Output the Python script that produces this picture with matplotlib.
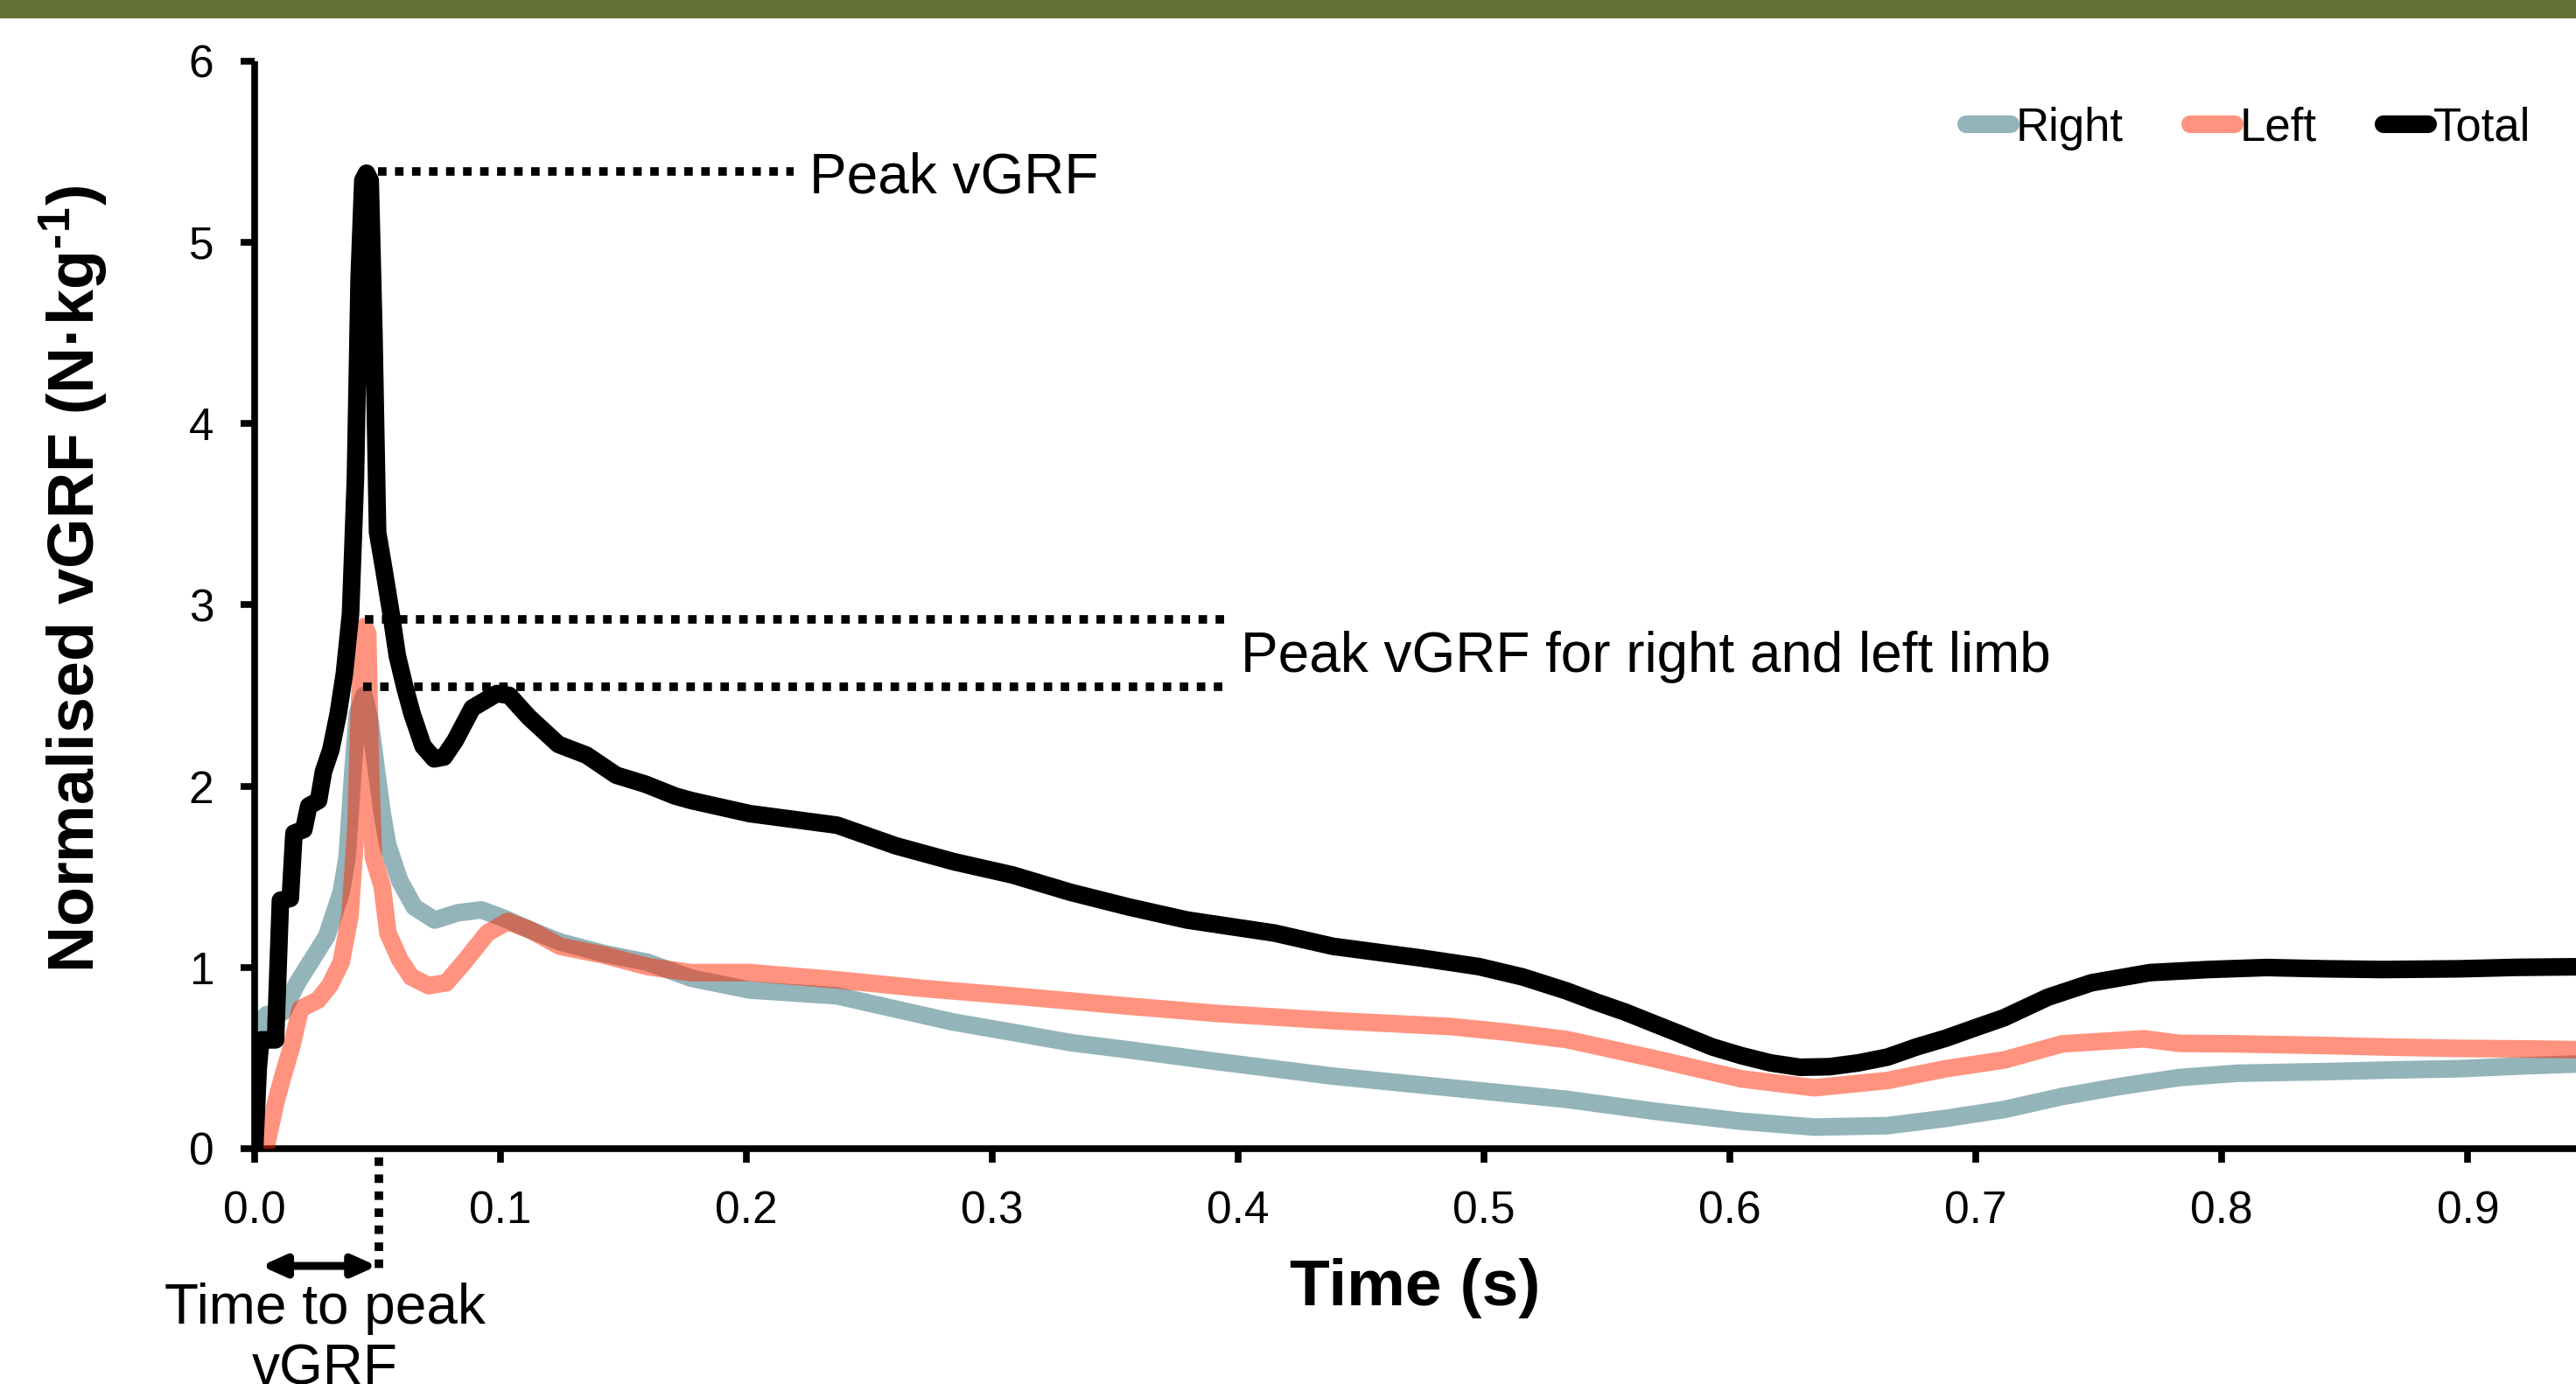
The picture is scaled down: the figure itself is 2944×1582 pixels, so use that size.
import matplotlib
matplotlib.use("Agg")
import matplotlib.pyplot as plt
import matplotlib.transforms as mtransforms
from matplotlib.patches import Rectangle

plt.rcParams['font.family'] = ['Liberation Sans', 'DejaVu Sans']
plt.rcParams['mathtext.default'] = 'regular'

# ---------------- data ----------------
total_t = [0.0, 0.0015, 0.0025, 0.0085, 0.0105, 0.0145, 0.016, 0.020, 0.022, 0.026,
           0.028, 0.031, 0.034, 0.0365, 0.039, 0.041, 0.0425, 0.044, 0.0455, 0.047,
           0.0485, 0.050, 0.0525, 0.0555, 0.058, 0.061, 0.064, 0.0685, 0.073, 0.077,
           0.0815, 0.0885, 0.0985, 0.1035, 0.1115, 0.1235, 0.135, 0.147, 0.159, 0.171,
           0.1776, 0.2013, 0.2369, 0.2606, 0.2843, 0.3081, 0.3318, 0.3555, 0.3792, 0.4148,
           0.4385, 0.4741, 0.4979, 0.5157, 0.5335, 0.5453, 0.5572, 0.569, 0.5809, 0.5928,
           0.6046, 0.6165, 0.6284, 0.6403, 0.6521, 0.664, 0.6758, 0.6877, 0.6995, 0.7114,
           0.7292, 0.747, 0.7707, 0.7944, 0.8181, 0.8419, 0.8656, 0.8964, 0.92, 0.95]
total_v = [0.0, 0.45, 0.60, 0.60, 1.37, 1.38, 1.74, 1.76, 1.89, 1.92,
           2.08, 2.20, 2.40, 2.62, 2.95, 3.7, 4.8, 5.34, 5.38, 5.34,
           4.5, 3.4, 3.2, 2.95, 2.72, 2.55, 2.40, 2.22, 2.15, 2.16,
           2.25, 2.43, 2.51, 2.50, 2.38, 2.23, 2.17, 2.06, 2.01, 1.945,
           1.92, 1.848, 1.784, 1.671, 1.583, 1.51, 1.414, 1.333, 1.261, 1.189,
           1.116, 1.052, 1.004, 0.947, 0.87, 0.81, 0.754, 0.69, 0.626, 0.561,
           0.513, 0.473, 0.449, 0.452, 0.473, 0.505, 0.561, 0.609, 0.666, 0.722,
           0.835, 0.915, 0.971, 0.988, 0.999, 0.992, 0.988, 0.992, 1.0, 1.004]

right_t = [0.0, 0.0015, 0.005, 0.0115, 0.0174, 0.0234, 0.0293, 0.0352, 0.0376, 0.040,
           0.0418, 0.0445, 0.047, 0.0495, 0.0519, 0.0542, 0.059, 0.0649, 0.0732, 0.0827,
           0.0922, 0.1017, 0.1123, 0.1242, 0.142, 0.1598, 0.1776, 0.2013, 0.2369, 0.2606,
           0.2843, 0.3081, 0.3318, 0.3555, 0.3911, 0.4385, 0.486, 0.5335, 0.569, 0.6046,
           0.6343, 0.664, 0.6877, 0.7114, 0.7351, 0.7588, 0.7826, 0.8063, 0.8419, 0.8656,
           0.8964, 0.9234, 0.95]
right_v = [0.0, 0.70, 0.74, 0.754, 0.915, 1.044, 1.172, 1.414, 1.607, 2.09,
           2.40, 2.50, 2.35, 2.09, 1.848, 1.671, 1.478, 1.333, 1.261, 1.301,
           1.317, 1.269, 1.205, 1.14, 1.076, 1.028, 0.94, 0.875, 0.843, 0.77,
           0.698, 0.642, 0.585, 0.545, 0.481, 0.40, 0.336, 0.272, 0.207, 0.151,
           0.119, 0.127, 0.167, 0.216, 0.288, 0.344, 0.392, 0.416, 0.425, 0.433,
           0.441, 0.457, 0.47]

left_t = [0.0045, 0.0085, 0.0115, 0.015, 0.0186, 0.0257, 0.0305, 0.0352, 0.0388, 0.0412,
          0.0424, 0.0437, 0.0447, 0.046, 0.0471, 0.0483, 0.0519, 0.0542, 0.059, 0.0637,
          0.0708, 0.0779, 0.0851, 0.0946, 0.1029, 0.1123, 0.1242, 0.142, 0.1598, 0.1776,
          0.2013, 0.2369, 0.2725, 0.3081, 0.3555, 0.3911, 0.4385, 0.486, 0.5097, 0.5335,
          0.569, 0.6046, 0.6343, 0.664, 0.6877, 0.7114, 0.7351, 0.7683, 0.7826, 0.8063,
          0.8419, 0.8656, 0.8964, 0.9234, 0.95]
left_v = [0.0, 0.25, 0.40, 0.561, 0.771, 0.819, 0.899, 1.028, 1.285, 1.768,
          2.33, 2.84, 2.88, 2.84, 2.09, 1.607, 1.446, 1.189, 1.044, 0.947,
          0.899, 0.915, 1.028, 1.189, 1.253, 1.205, 1.116, 1.068, 1.004, 0.971,
          0.971, 0.931, 0.883, 0.843, 0.786, 0.746, 0.706, 0.674, 0.642, 0.602,
          0.497, 0.385, 0.336, 0.376, 0.441, 0.489, 0.578, 0.606, 0.581, 0.578,
          0.569, 0.561, 0.553, 0.55, 0.545]

series_labels = ['Right', 'Left', 'Total']
x_ticks = [0.0, 0.1, 0.2, 0.3, 0.4, 0.5, 0.6, 0.7, 0.8, 0.9]
x_tick_labels = ['0.0', '0.1', '0.2', '0.3', '0.4', '0.5', '0.6', '0.7', '0.8', '0.9']
y_ticks = [0, 1, 2, 3, 4, 5, 6]
y_tick_labels = ['0', '1', '2', '3', '4', '5', '6']

peak_total = 5.39          # dotted line level, total peak
peak_left = 2.92           # dotted line level, left-limb peak
peak_right = 2.55          # dotted line level, right-limb peak
time_to_peak = 0.0505      # vertical dotted marker below axis
peak_line_start = [0.0502, 0.0448, 0.0441]
peak_line_end = [0.2192, 0.3943, 0.3943]

# ---------------- figure ----------------
W, H = 2944, 1582
fig = plt.figure(figsize=(W / 100, H / 100), dpi=100)
fig.patch.set_facecolor('white')

# olive band on top
fig.add_artist(Rectangle((0, 1 - 21 / H), 1, 21 / H, transform=fig.transFigure,
                         facecolor='#647335', edgecolor='none', zorder=10))

ax_left, ax_top, ax_bottom = 291, 69.5, 1313
ax = fig.add_axes([ax_left / W, 1 - ax_bottom / H, 1 - ax_left / W, (ax_bottom - ax_top) / H])

LW = 14.5
c_right = (0x29 / 255, 0x6B / 255, 0x75 / 255, 0.5)
c_left = (1.0, 0x28 / 255, 0.0, 0.5)
ax.plot(right_t, right_v, color=c_right, lw=LW, solid_capstyle='round',
        solid_joinstyle='round', zorder=2, label=series_labels[0])
ax.plot(left_t, left_v, color=c_left, lw=LW, solid_capstyle='round',
        solid_joinstyle='round', zorder=3, label=series_labels[1])
ax.plot(total_t, total_v, color='black', lw=LW, solid_capstyle='round',
        solid_joinstyle='round', zorder=4, label=series_labels[2])

# dotted peak lines
for lvl, x0, x1 in zip([peak_total, peak_left, peak_right], peak_line_start, peak_line_end):
    ax.plot([x0, x1], [lvl, lvl], color='black', lw=7, linestyle=(0, (1, 1)),
            dash_capstyle='butt', zorder=3.5)

ax.text(0.2257, 5.27, 'Peak vGRF', fontsize=46, ha='left', va='baseline', zorder=6)
ax.text(0.401, 2.632, 'Peak vGRF for right and left limb', fontsize=46,
        ha='left', va='baseline', zorder=6)

# time-to-peak marker below axis
trans = mtransforms.blended_transform_factory(ax.transData, ax.transAxes)
ax.plot([time_to_peak, time_to_peak], [-0.008, -0.112], transform=trans, color='black',
        lw=7, linestyle=(0, (1, 1)), dash_capstyle='butt', clip_on=False)
ax.annotate('', xy=(0.0498, -0.1078), xytext=(0.0026, -0.1078), xycoords=trans,
            textcoords=trans,
            arrowprops=dict(arrowstyle='<|-|>,head_length=1.0,head_width=0.45',
                            mutation_scale=16, lw=6.5, color='black',
                            shrinkA=0, shrinkB=0), annotation_clip=False)
fig.text(371.5 / W, 1 - 1466 / H, 'Time to peak\nvGRF', fontsize=46, ha='center', va='top')

# axes styling
ax.set_xlim(0, 0.944)
ax.set_ylim(0, 6)
ax.set_xticks(x_ticks)
ax.set_xticklabels(x_tick_labels)
ax.set_yticks(y_ticks)
ax.set_yticklabels(y_tick_labels)
for s in ['top', 'right']:
    ax.spines[s].set_visible(False)
for s in ['left', 'bottom']:
    ax.spines[s].set_linewidth(5.5)
    ax.spines[s].set_capstyle('butt')
ax.tick_params(axis='both', direction='out', length=11.5, width=5.5, labelsize=37)
ax.tick_params(axis='x', pad=23)
ax.tick_params(axis='y', pad=22)

ax.set_xlabel('Time (s)', fontsize=54, fontweight='bold')
ax.xaxis.set_label_coords(0.5, -0.1005)
ax.set_ylabel('Normalised vGRF (N·kg$^{\u2010}$$^{1}$)', fontsize=53, fontweight='bold')
ax.yaxis.set_label_coords(-0.0624, 0.524)

leg = ax.legend(loc='center right', bbox_to_anchor=(2892 / W, 1 - 146.5 / H),
                bbox_transform=fig.transFigure, ncol=3, frameon=False, fontsize=38,
                handlelength=0.97, handletextpad=0.1, columnspacing=1.45,
                borderpad=0, borderaxespad=0)

fig.savefig('out.png', dpi=100, facecolor='white')
